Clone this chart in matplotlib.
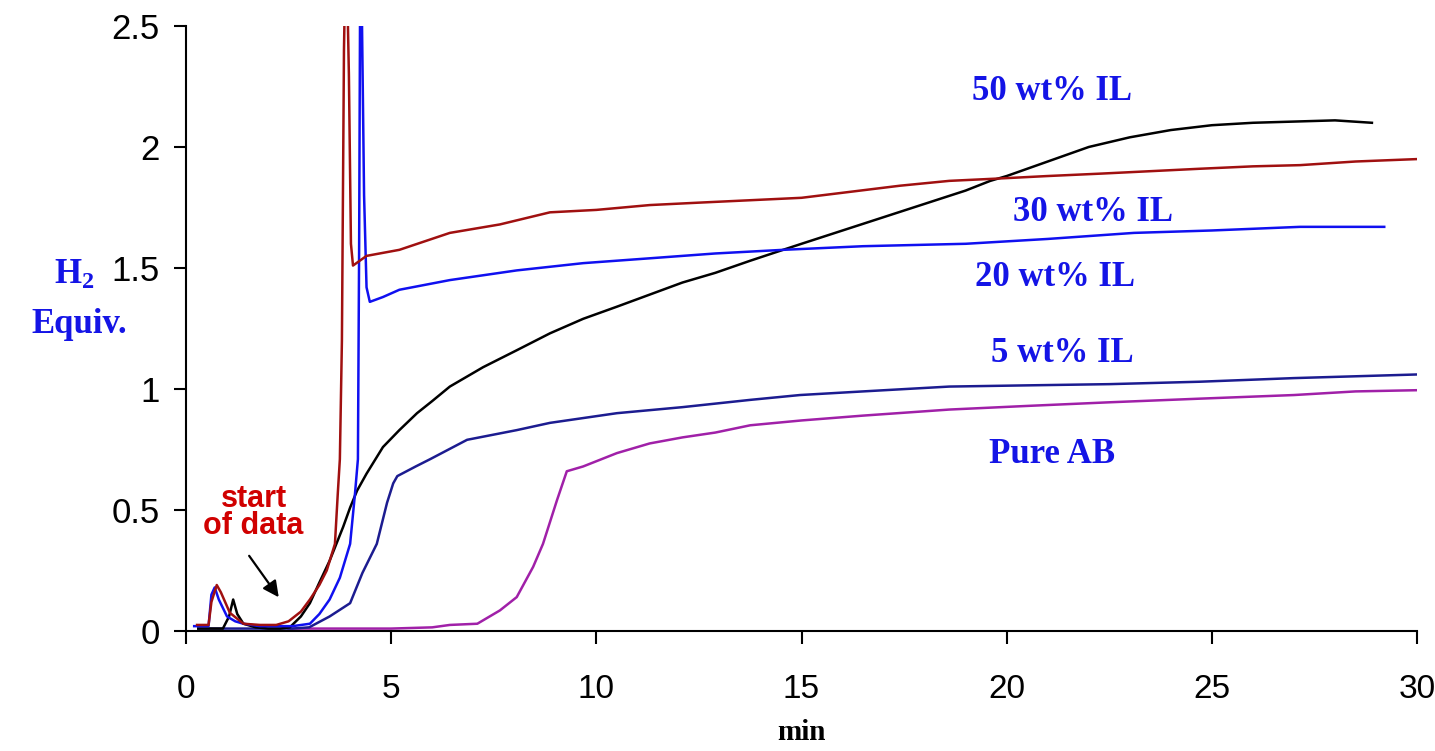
import matplotlib
matplotlib.use('Agg')
import matplotlib.pyplot as plt

plt.rcParams['mathtext.fontset'] = 'custom'
plt.rcParams['mathtext.rm'] = 'Liberation Serif:bold'
plt.rcParams['mathtext.it'] = 'Liberation Serif:bold'
plt.rcParams['mathtext.bf'] = 'Liberation Serif:bold'

# --- data (time in min, H2 equivalents) ---
t_red = [0.27, 0.55, 0.62, 0.75, 0.85, 1.07, 1.4, 1.8, 2.2, 2.5, 2.8, 3.02, 3.25, 3.43,
         3.63, 3.70, 3.75, 3.80, 3.85, 3.90, 3.97, 4.02, 4.07, 4.4, 5.2, 6.43, 7.65, 8.87,
         10.0, 11.3, 12.5, 13.75, 15.0, 16.2, 17.4, 18.6, 19.84, 21.0, 22.3, 23.5, 24.7,
         26.0, 27.15, 28.5, 30.0]
v_red = [0.025, 0.025, 0.12, 0.19, 0.16, 0.075, 0.03, 0.025, 0.025, 0.04, 0.08, 0.13, 0.19,
         0.25, 0.36, 0.57, 0.71, 1.2, 2.4, 2.9, 2.3, 1.6, 1.51, 1.55, 1.575, 1.645, 1.68, 1.73,
         1.74, 1.76, 1.77, 1.78, 1.79, 1.815, 1.84, 1.86, 1.87, 1.88, 1.89, 1.90, 1.91,
         1.92, 1.925, 1.94, 1.95]

t_blue = [0.2, 0.55, 0.62, 0.7, 0.8, 1.0, 1.2, 1.4, 1.8, 2.2, 2.6, 3.02, 3.25, 3.5, 3.75,
          4.0, 4.12, 4.19, 4.22, 4.25, 4.29, 4.34, 4.40, 4.48, 4.8, 5.2, 6.43, 8.06, 9.68,
          11.3, 12.9, 14.55, 16.5, 19.0, 21.0, 23.1, 25.0, 27.15, 29.2]
v_blue = [0.02, 0.02, 0.15, 0.18, 0.13, 0.06, 0.04, 0.03, 0.02, 0.02, 0.02, 0.03, 0.07, 0.13,
          0.22, 0.36, 0.57, 0.71, 1.6, 2.9, 2.5, 1.8, 1.42, 1.36, 1.38, 1.41, 1.45, 1.49, 1.52,
          1.54, 1.56, 1.575, 1.59, 1.60, 1.62, 1.645, 1.655, 1.67, 1.67]

t_black = [0.3, 0.9, 1.05, 1.15, 1.25, 1.4, 1.7, 2.0, 2.3, 2.53, 2.8, 3.02, 3.25, 3.5, 3.83,
           4.0, 4.17, 4.4, 4.8, 5.2, 5.63, 6.0, 6.43, 7.24, 8.06, 8.87, 9.68, 10.5, 11.3,
           12.1, 12.9, 13.75, 14.55, 15.0, 16.0, 17.0, 18.0, 19.0, 19.6, 20.0, 21.0, 22.0,
           23.0, 24.0, 25.0, 26.0, 27.0, 28.0, 28.9]
v_black = [0.01, 0.01, 0.06, 0.13, 0.07, 0.03, 0.015, 0.01, 0.01, 0.015, 0.06, 0.115, 0.2,
           0.29, 0.43, 0.51, 0.58, 0.65, 0.76, 0.83, 0.90, 0.95, 1.01, 1.09, 1.16, 1.23, 1.29,
           1.34, 1.39, 1.44, 1.48, 1.53, 1.575, 1.60, 1.655, 1.71, 1.765, 1.82, 1.86, 1.88,
           1.94, 2.0, 2.04, 2.07, 2.09, 2.10, 2.105, 2.11, 2.10]

t_navy = [0.3, 1.0, 2.0, 2.6, 3.0, 3.5, 4.0, 4.3, 4.65, 4.9, 5.05, 5.15, 5.6, 5.95, 6.85,
          8.06, 8.87, 10.5, 12.1, 13.75, 14.96, 16.5, 18.6, 20.5, 22.5, 24.7, 27.0, 30.0]
v_navy = [0.01, 0.01, 0.01, 0.01, 0.015, 0.06, 0.115, 0.24, 0.36, 0.53, 0.61, 0.64, 0.68,
          0.71, 0.79, 0.83, 0.86, 0.90, 0.925, 0.955, 0.975, 0.99, 1.01, 1.015, 1.02, 1.03,
          1.045, 1.06]

t_mag = [2.5, 4.0, 5.0, 6.0, 6.43, 7.1, 7.65, 8.06, 8.46, 8.7, 9.04, 9.28, 9.68, 10.5, 11.3,
         12.1, 12.9, 13.75, 15.0, 16.5, 18.6, 20.5, 22.5, 24.7, 27.0, 28.5, 30.0]
v_mag = [0.01, 0.01, 0.01, 0.015, 0.025, 0.03, 0.085, 0.14, 0.265, 0.36, 0.54, 0.66, 0.68,
         0.735, 0.775, 0.80, 0.82, 0.85, 0.87, 0.89, 0.915, 0.93, 0.945, 0.96, 0.975, 0.99,
         0.995]

labels = ['50 wt% IL', '30 wt% IL', '20 wt% IL', '5 wt% IL', 'Pure AB']
label_x = [21.1, 22.1, 21.18, 21.35, 21.1]
label_y = [2.23, 1.73, 1.46, 1.145, 0.73]

fig = plt.figure(figsize=(14.35, 7.51), dpi=100)
ax = fig.add_axes([0.1296, 0.1598, 0.8579, 0.8056])

lw = 1.8
ax.plot(t_mag, v_mag, color='#a020a8', lw=lw)
ax.plot(t_navy, v_navy, color='#1c1c90', lw=lw)
ax.plot(t_black, v_black, color='black', lw=lw)
ax.plot(t_blue, v_blue, color='#1010f0', lw=lw)
ax.plot(t_red, v_red, color='#a01010', lw=lw)

ax.set_xlim(0, 30)
ax.set_ylim(0, 2.5)
ax.set_xticks([0, 5, 10, 15, 20, 25, 30])
ax.set_yticks([0, 0.5, 1, 1.5, 2, 2.5])
ax.set_yticklabels(['0', '0.5', '1', '1.5', '2', '2.5'])

for s in ['top', 'right']:
    ax.spines[s].set_visible(False)
for s in ['left', 'bottom']:
    ax.spines[s].set_linewidth(1.5)

ax.tick_params(axis='both', direction='out', length=9, width=1.5)
ax.tick_params(axis='x', pad=22, labelsize=24)
ax.tick_params(axis='y', pad=10, labelsize=25)
for lab in ax.get_xticklabels() + ax.get_yticklabels():
    lab.set_family('Liberation Sans')

ax.set_xlabel('min', family='Liberation Serif', fontweight='bold', fontsize=21, labelpad=10)

serif_blue = dict(family='Liberation Serif', fontweight='bold', color='#1414e6',
                  fontsize=25, ha='center', va='center')
for txt, x, y in zip(labels, label_x, label_y):
    ax.text(x, y, txt, **serif_blue)

ax.text(-2.72, 1.47, r'H$_{2}$', clip_on=False, **serif_blue)
ax.text(-2.6, 1.265, 'Equiv.', clip_on=False, **serif_blue)

ax.text(1.65, 0.49, 'start\nof data', family='Liberation Sans', fontweight='bold',
        color='#d00000', fontsize=22, ha='center', va='center', linespacing=0.9)
ax.annotate('', xy=(2.3, 0.13), xytext=(1.5, 0.32),
            arrowprops=dict(arrowstyle='-|>', color='black', lw=1.6, mutation_scale=24))

fig.savefig('out.png', dpi=100)
